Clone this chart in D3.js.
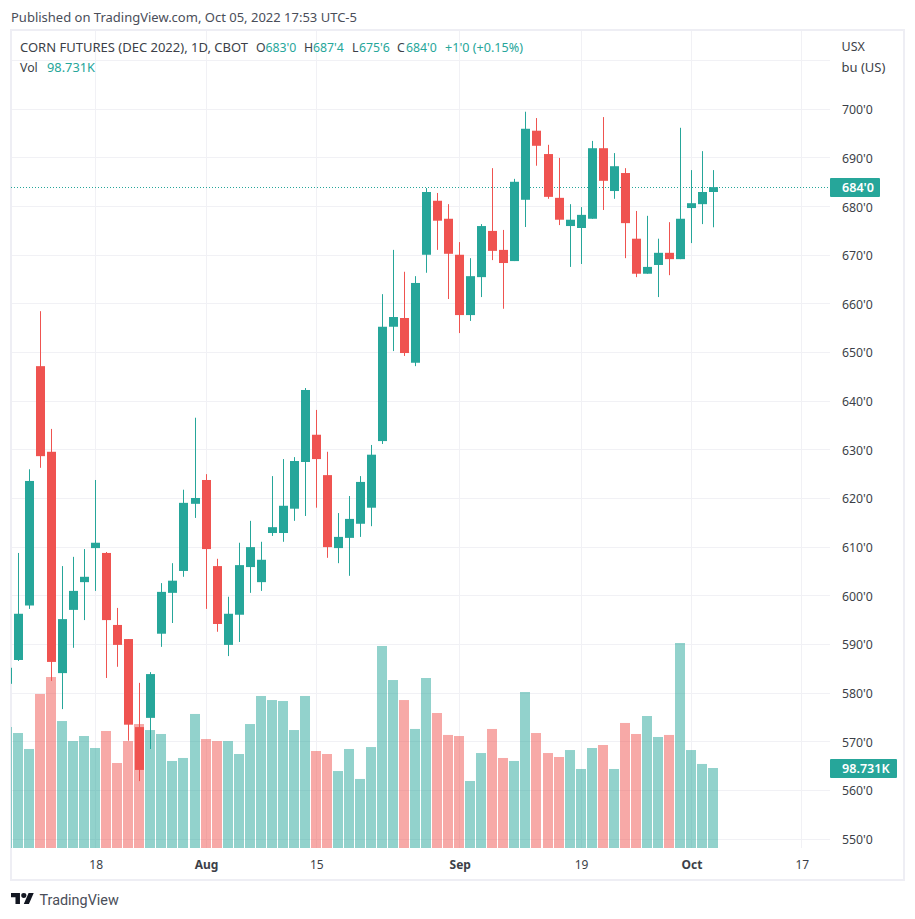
<!DOCTYPE html>
<html lang="en">
<head>
<meta charset="UTF-8">
<title>Corn Futures</title>
<script src="https://d3js.org/d3.v7.min.js"></script>
<style>
    html, body { margin: 0; background: #fff; }
    svg { display: block; }
    text { font-family: "Noto Sans", Roboto, sans-serif; fill: #131722; }
</style>
</head>
<body>
<svg width="915" height="919"></svg>
<script>
    // one entry per session, the first one is cut off by the left edge of the chart
    const opens = [581.9,586.8,598,647.2,629.6,584.1,597.1,602.8,609.8,608.8,594,591.1,573,574.9,592.2,600.6,605.1,618.9,623.8,606.1,589.9,596.1,605.9,602.8,612.9,612.9,617.9,627.5,633.1,624.8,609.8,611.9,614.8,618.1,631.8,655.3,657.1,647.9,670.1,681.2,677.5,670.1,657.7,665.5,675,671.1,668.8,681.4,695.6,690.8,681.8,676,675.6,677.5,692,683.2,686.9,673.4,666.2,668,670.5,669.2,679.7,680.5,683];
    const highs = [586,608.8,626,658.5,634.3,606.1,608,609.6,623.8,609,597.5,591.1,582.1,584.3,602.6,606.7,621.8,636.6,625,607.6,599.8,610.9,615.4,611.1,624.6,628.1,628.5,642.7,638.2,629.6,617,620.5,624.6,631,662,671.1,666.6,665.7,683.8,682.8,680.5,672.7,669.4,676.4,687.9,675.2,685.7,699.5,698.2,692.7,690,680.5,679.9,693.5,698.4,691,687.9,679.1,678.1,673.4,676.8,696.2,687.5,691.4,687.5];
    const lows = [581,586.6,597.3,626.3,582.5,576.7,589.3,595,601,583.1,585.4,570.2,561.9,568.5,589.5,594.4,603.9,616,597.3,592.6,587.6,590.5,600.6,601,612.3,611.1,615.4,616.4,618.1,607.8,606.7,604.1,612.1,614.3,631.2,650.3,649.3,647.2,666.4,671.1,661,654,656.5,661.4,669,659,668.8,675.8,688.4,681.6,676.2,667.6,668.2,677.5,679.3,681.6,669.4,665.5,666.2,661.4,665.9,669.2,672.5,676.4,675.75];
    const closes = [585.2,596.3,623.6,628.7,586.4,595.2,601,603.9,610.9,595,589.9,573.5,564.2,583.9,600.8,603.1,619.1,620.1,609.6,594.2,596.3,606.3,610,607.4,614.1,618.5,627.7,642.3,628.1,610,612.1,615.8,623.4,629,655.3,657.3,649.9,664.3,683,677.1,670.3,657.7,665.7,676,670.9,668.4,685.1,696,692.5,682,677.3,677.3,678.3,692,685.3,688.3,676.6,666.2,667.6,670.5,669.2,677.5,680.7,683,684];
    // thousands of contracts
    const volumes = [149.3,141.9,122.2,190.1,211,156.7,132,138.2,123.4,144.4,104.9,132,153,145.6,140.7,107.4,111.1,165.4,134.5,132,132,116,153,187.6,182.6,181.4,145.6,187.6,119.7,116,95,122.2,85.2,124.6,249.3,207.3,182.6,146.9,209.8,166.6,139.5,138.2,82.7,117.2,146.9,111.1,107.4,192.5,141.9,117.2,112.3,120.9,97.5,123.4,127.1,97.5,154.3,140.7,162.9,137,139.5,253,120.9,103.7,98.731];

    const priceTicks = [550,560,570,580,590,600,610,620,630,640,650,660,670,680,690,700];
    const gridPrices = [...priceTicks, 710];
    const dateTickIndex = [8,18,28,41,52,62,72];
    const dateTickLabels = ["18","Aug","15","Sep","19","Oct","17"];
    const monthLabels = ["Aug","Sep","Oct"];

    const up = "#26a69a", down = "#ef5350", lineColor = "#f1f1f5", frameColor = "#eeeef4";
    const textGrey = "#3c3f48";
    const plotLeft = 11, plotRight = 830, plotTop = 31, plotBottom = 848;

    const svg = d3.select("svg");

    const x = d3.scaleLinear().domain([0, 64]).range([7.47, 713.5]);
    const y = d3.scaleLinear().domain([550, 700]).range([839, 109.3]);
    const v = d3.scaleLinear().domain([0, 98.731]).range([plotBottom, 768]);
    const px = i => Math.floor(x(i)) + 0.5;
    const py = p => Math.round(y(p) - 0.5) + 0.5;

    // frame
    svg.append("rect").attr("x", 11).attr("y", 30).attr("width", 893).attr("height", 850)
       .attr("fill", "#fff").attr("stroke", frameColor).attr("stroke-width", 2);

    // grid
    svg.append("g").selectAll("line").data(gridPrices).join("line")
       .attr("x1", 12).attr("x2", plotRight)
       .attr("y1", py).attr("y2", py)
       .attr("stroke", lineColor);
    svg.append("g").selectAll("line").data(dateTickIndex).join("line")
       .attr("x1", px).attr("x2", px)
       .attr("y1", plotTop).attr("y2", plotBottom)
       .attr("stroke", lineColor);

    svg.append("clipPath").attr("id", "plot")
       .append("rect").attr("x", plotLeft).attr("y", plotTop).attr("width", plotRight - plotLeft).attr("height", plotBottom - plotTop);
    const plot = svg.append("g").attr("clip-path", "url(#plot)");

    const idx = d3.range(opens.length);
    const color = i => closes[i] >= opens[i] ? up : down;

    // volume sits under the candles
    plot.append("g").selectAll("rect").data(idx).join("rect")
        .attr("x", i => Math.floor(x(i)) - 5)
        .attr("width", 10)
        .attr("y", i => v(volumes[i]))
        .attr("height", i => plotBottom - v(volumes[i]))
        .attr("fill", color)
        .attr("fill-opacity", 0.5);

    // last price line
    plot.append("line")
        .attr("x1", plotLeft).attr("x2", plotRight)
        .attr("y1", py(684)).attr("y2", py(684))
        .attr("stroke", up).attr("stroke-dasharray", "1,2");

    // wicks
    plot.append("g").selectAll("line").data(idx).join("line")
        .attr("x1", px).attr("x2", px)
        .attr("y1", i => y(highs[i])).attr("y2", i => y(lows[i]))
        .attr("stroke", color);

    // bodies
    plot.append("g").selectAll("rect").data(idx).join("rect")
        .attr("x", i => Math.floor(x(i)) - 4)
        .attr("width", 9)
        .attr("y", i => y(Math.max(opens[i], closes[i])))
        .attr("height", i => Math.max(1, Math.abs(y(opens[i]) - y(closes[i]))))
        .attr("fill", color);

    // price axis
    const yAxis = svg.append("g")
        .attr("transform", `translate(${plotRight},0.5)`)
        .call(d3.axisRight(y).tickValues(priceTicks).tickSize(0).tickPadding(12).tickFormat(d => `${d}'0`));
    yAxis.select(".domain").remove();
    yAxis.selectAll("text").style("font-size", "12.3px").style("fill", textGrey);

    // date axis
    const xAxis = svg.append("g")
        .attr("transform", `translate(0,${plotBottom})`)
        .call(d3.axisBottom(x).tickValues(dateTickIndex).tickSize(0).tickPadding(12)
                .tickFormat((d, i) => dateTickLabels[i]));
    xAxis.select(".domain").remove();
    xAxis.selectAll("text")
         .style("font-size", "12px")
         .style("fill", textGrey)
         .style("font-weight", d => monthLabels.includes(dateTickLabels[dateTickIndex.indexOf(d)]) ? "bold" : "normal");

    // last value labels
    const badge = (x0, x1, y0, y1, txt) => {
        svg.append("rect").attr("x", x0).attr("y", y0).attr("width", x1 - x0).attr("height", y1 - y0)
           .attr("rx", 1).attr("fill", up);
        svg.append("text").attr("x", 842).attr("y", (y0 + y1) / 2 + 4.5)
           .style("font-size", "12.6px").style("fill", "#fff").style("font-weight", 600).text(txt);
    };
    badge(830, 880, 178, 197, "684'0");
    badge(830, 897, 759, 778, "98.731K");

    // headers
    const label = (xp, yp, txt, fill, size) => svg.append("text").attr("x", xp).attr("y", yp)
        .style("font-size", (size || 12.3) + "px").style("fill", fill || textGrey).text(txt);

    label(11, 22, "Published on TradingView.com, Oct 05, 2022 17:53 UTC-5", "#4a4e59", 13);
    label(841.5, 51, "USX", textGrey, 12.5);
    label(841.5, 71.5, "bu (US)", textGrey, 13);
    label(20, 52, "CORN FUTURES (DEC 2022), 1D, CBOT", textGrey, 13);
    label(256, 52, "O");
    label(265.5, 52, "683'0", up);
    label(304, 52, "H");
    label(313, 52, "687'4", up);
    label(352, 52, "L");
    label(359, 52, "675'6", up);
    label(397, 52, "C");
    label(406, 52, "684'0", up);
    label(445, 52, "+1'0 (+0.15%)", up, 12.6);
    label(20, 71.5, "Vol");
    label(47, 71.5, "98.731K", up, 12.8);

    // footer logo
    const logo = svg.append("g").attr("transform", "translate(11,890.6) scale(0.64,0.61)").attr("fill", "#131722");
    logo.append("path").attr("d", "M14 22H7V11H0V4h14v18zM28 22h-8l7.5-18h8L28 22z");
    logo.append("circle").attr("cx", 20).attr("cy", 8).attr("r", 4);
    svg.append("text").attr("x", 39.5).attr("y", 904.5)
       .style("font-family", "Roboto").style("font-size", "14.4px").style("fill", "#4a4e59").text("TradingView");
</script>
</body>
</html>
